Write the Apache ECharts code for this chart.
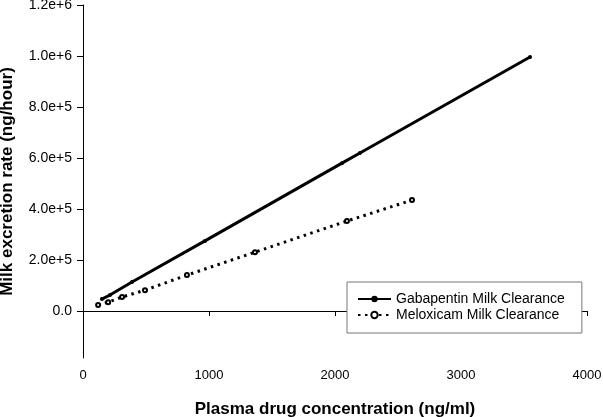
<!DOCTYPE html>
<html><head><meta charset="utf-8">
<script src="https://cdn.jsdelivr.net/npm/echarts@6/dist/echarts.min.js"></script>
<style>html,body{margin:0;padding:0;background:#fff}#c{width:603px;height:417px}</style>
</head><body><div id="c"></div>
<script>
const gabapentinX = [150, 214, 389, 968, 2055, 2198, 3548];
const gabapentinY = [47000, 63000, 114000, 275000, 580000, 620000, 996000];
const meloxicamX = [120, 200, 310, 492, 825, 1365, 2095, 2611];
const meloxicamY = [23500, 35000, 55000, 82000, 141000, 231000, 353000, 435000];
const yTicks = [0, 200000, 400000, 600000, 800000, 1000000, 1200000];
const xTicks = [0, 1000, 2000, 3000, 4000];
const seriesNames = ['Gabapentin Milk Clearance', 'Meloxicam Milk Clearance'];

const pair = (xs, ys) => xs.map((x, i) => [x, ys[i]]);
const FONT = 'Liberation Sans, Arial, sans-serif';
const chart = echarts.init(document.getElementById('c'));
chart.setOption({
  animation: false,
  grid: {left: 83, right: 16, top: 5, bottom: 59, outerBoundsMode: 'none', containLabel: false},
  legend: {
    orient: 'vertical', left: 347, top: 282, width: 230, height: 34,
    padding: [10, 17, 11, 10], itemGap: 2, itemWidth: 33, itemHeight: 8,
    borderColor: '#777', borderWidth: 1, backgroundColor: '#fff', z: 10,
    textStyle: {fontFamily: FONT, fontSize: 14, color: '#000'},
    data: seriesNames
  },
  xAxis: {
    type: 'value', min: xTicks[0], max: xTicks[xTicks.length - 1], interval: 1000,
    name: 'Plasma drug concentration (ng/ml)', nameLocation: 'middle', nameGap: 43,
    nameTextStyle: {fontFamily: FONT, fontSize: 17, fontWeight: 'bold', color: '#000'},
    axisLine: {lineStyle: {color: '#000', width: 1}},
    axisTick: {length: 5, lineStyle: {color: '#000'}},
    axisLabel: {fontFamily: FONT, fontSize: 13, color: '#000', margin: 11, formatter: v => String(v)},
    splitLine: {show: false}
  },
  yAxis: {
    type: 'value', min: -184000, max: 1200000,
    name: 'Milk excretion rate (ng/hour)', nameLocation: 'middle', nameGap: 67,
    nameTextStyle: {fontFamily: FONT, fontSize: 17, fontWeight: 'bold', color: '#000'},
    axisLine: {show: true, lineStyle: {color: '#000', width: 1}},
    axisTick: {show: true, length: 6, lineStyle: {color: '#000'}, customValues: yTicks},
    axisLabel: {fontFamily: FONT, fontSize: 14, color: '#000', margin: 11, customValues: yTicks,
      formatter: v => v === 0 ? '0.0' : v.toExponential(1)},
    splitLine: {show: false}
  },
  series: [
    {
      name: seriesNames[0], type: 'line', data: pair(gabapentinX, gabapentinY),
      symbol: 'circle', symbolSize: 4, showAllSymbol: true,
      lineStyle: {color: '#000', width: 3},
      itemStyle: {color: '#000', borderColor: '#000', borderWidth: 0}
    },
    {
      name: seriesNames[1], type: 'line', data: pair(meloxicamX, meloxicamY),
      symbol: 'emptyCircle', symbolSize: 4, showAllSymbol: true,
      lineStyle: {color: '#000', width: 3, type: [2.5, 4.5]},
      itemStyle: {color: '#000', borderColor: '#000', borderWidth: 1}
    }
  ]
});
</script></body></html>
